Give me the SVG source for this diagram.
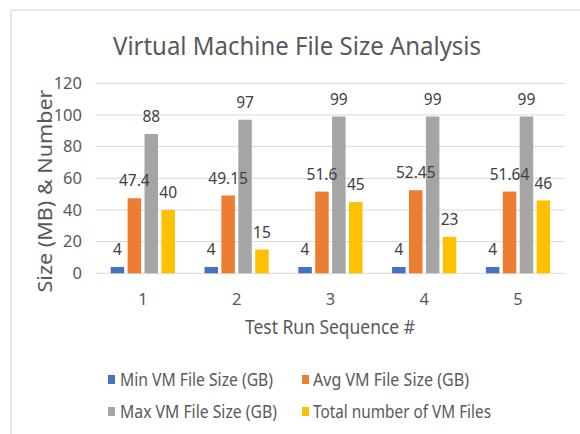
<svg xmlns="http://www.w3.org/2000/svg" width="580" height="434" viewBox="0 0 580 434">
<style>
text{font-family:"Noto Sans","Open Sans","Liberation Sans",sans-serif;fill:#595959}
.grid{stroke:#d9d9d9;stroke-width:1}
.tick{font-size:16.5px;text-anchor:end}
.cat{font-size:16.5px;text-anchor:middle}
.dl{font-size:15.5px;text-anchor:middle;fill:#404040}
.lg{font-size:18px}
.s1{fill:#4472C4}.s2{fill:#ED7D31}.s3{fill:#A5A5A5}.s4{fill:#FFC000}
</style>
<rect x="0" y="0" width="580" height="434" fill="#ffffff"/>
<rect x="11" y="10" width="600" height="460" fill="#ffffff" stroke="#d9d9d9" stroke-width="1.2"/>
<text id="title" x="297" y="55" font-size="25" text-anchor="middle" textLength="368" lengthAdjust="spacingAndGlyphs">Virtual Machine File Size Analysis</text>
<g id="gridlines">
<line class="grid" x1="96" y1="83.3" x2="565" y2="83.3"/>
<line class="grid" x1="96" y1="115" x2="565" y2="115"/>
<line class="grid" x1="96" y1="146.6" x2="565" y2="146.6"/>
<line class="grid" x1="96" y1="178.3" x2="565" y2="178.3"/>
<line class="grid" x1="96" y1="210" x2="565" y2="210"/>
<line class="grid" x1="96" y1="241.6" x2="565" y2="241.6"/>
<line class="grid" x1="96" y1="273.3" x2="565" y2="273.3" stroke-width="1.3"/>
</g>
<g id="yticks">
<text class="tick" x="82" y="89">120</text>
<text class="tick" x="82" y="120.7">100</text>
<text class="tick" x="82" y="152.3">80</text>
<text class="tick" x="82" y="184">60</text>
<text class="tick" x="82" y="215.7">40</text>
<text class="tick" x="82" y="247.3">20</text>
<text class="tick" x="82" y="279">0</text>
</g>
<text id="ytitle" transform="translate(51.5,191) rotate(-90)" font-size="19" text-anchor="middle" textLength="203" lengthAdjust="spacingAndGlyphs">Size (MB) &amp; Number</text>
<g id="xticks">
<text class="cat" x="142.9" y="305">1</text>
<text class="cat" x="236.7" y="305">2</text>
<text class="cat" x="330.5" y="305">3</text>
<text class="cat" x="424.3" y="305">4</text>
<text class="cat" x="518.1" y="305">5</text>
</g>
<text id="xtitle" x="330" y="334" font-size="20" text-anchor="middle" textLength="170" lengthAdjust="spacingAndGlyphs">Test Run Sequence #</text>
<g id="bars">
<rect class="s1" x="110.7" y="267" width="13.5" height="6.3"/>
<rect class="s2" x="127.6" y="198.25" width="13.5" height="75.05"/>
<rect class="s3" x="144.5" y="133.97" width="13.5" height="139.33"/>
<rect class="s4" x="161.4" y="209.97" width="13.5" height="63.33"/>
<rect class="s1" x="204.5" y="267" width="13.5" height="6.3"/>
<rect class="s2" x="221.4" y="195.48" width="13.5" height="77.82"/>
<rect class="s3" x="238.3" y="119.72" width="13.5" height="153.58"/>
<rect class="s4" x="255.2" y="249.55" width="13.5" height="23.75"/>
<rect class="s1" x="298.3" y="267" width="13.5" height="6.3"/>
<rect class="s2" x="315.2" y="191.6" width="13.5" height="81.7"/>
<rect class="s3" x="332.1" y="116.55" width="13.5" height="156.75"/>
<rect class="s4" x="349" y="202.05" width="13.5" height="71.25"/>
<rect class="s1" x="392.1" y="267" width="13.5" height="6.3"/>
<rect class="s2" x="409" y="190.25" width="13.5" height="83.05"/>
<rect class="s3" x="425.9" y="116.55" width="13.5" height="156.75"/>
<rect class="s4" x="442.8" y="236.88" width="13.5" height="36.42"/>
<rect class="s1" x="485.9" y="267" width="13.5" height="6.3"/>
<rect class="s2" x="502.8" y="191.54" width="13.5" height="81.76"/>
<rect class="s3" x="519.7" y="116.55" width="13.5" height="156.75"/>
<rect class="s4" x="536.6" y="200.47" width="13.5" height="72.83"/>
</g>
<g id="datalabels">
<text class="dl" x="117.45" y="255">4</text>
<text class="dl" x="134.35" y="186.2">47.4</text>
<text class="dl" x="151.25" y="122">88</text>
<text class="dl" x="168.15" y="198">40</text>
<text class="dl" x="211.25" y="255">4</text>
<text class="dl" x="228.15" y="183.5">49.15</text>
<text class="dl" x="245.05" y="107.7">97</text>
<text class="dl" x="261.95" y="237.5">15</text>
<text class="dl" x="305.05" y="255">4</text>
<text class="dl" x="321.95" y="179.6">51.6</text>
<text class="dl" x="338.85" y="104.5">99</text>
<text class="dl" x="355.75" y="190">45</text>
<text class="dl" x="398.85" y="255">4</text>
<text class="dl" x="415.75" y="178.2">52.45</text>
<text class="dl" x="432.65" y="104.5">99</text>
<text class="dl" x="449.55" y="224.9">23</text>
<text class="dl" x="492.65" y="255">4</text>
<text class="dl" x="509.55" y="179.5">51.64</text>
<text class="dl" x="526.45" y="104.5">99</text>
<text class="dl" x="543.35" y="188.5">46</text>
</g>
<g id="legend">
<rect class="s1" x="108" y="375" width="7" height="9"/>
<text class="lg" x="120" y="386" textLength="153" lengthAdjust="spacingAndGlyphs">Min VM File Size (GB)</text>
<rect class="s2" x="302" y="375" width="7" height="9"/>
<text class="lg" x="313" y="386" textLength="156" lengthAdjust="spacingAndGlyphs">Avg VM File Size (GB)</text>
<rect class="s3" x="108" y="407" width="7" height="9"/>
<text class="lg" x="120" y="418" textLength="157" lengthAdjust="spacingAndGlyphs">Max VM File Size (GB)</text>
<rect class="s4" x="302" y="407" width="7" height="9"/>
<text class="lg" x="313" y="418" textLength="178" lengthAdjust="spacingAndGlyphs">Total number of VM Files</text>
</g>
</svg>
